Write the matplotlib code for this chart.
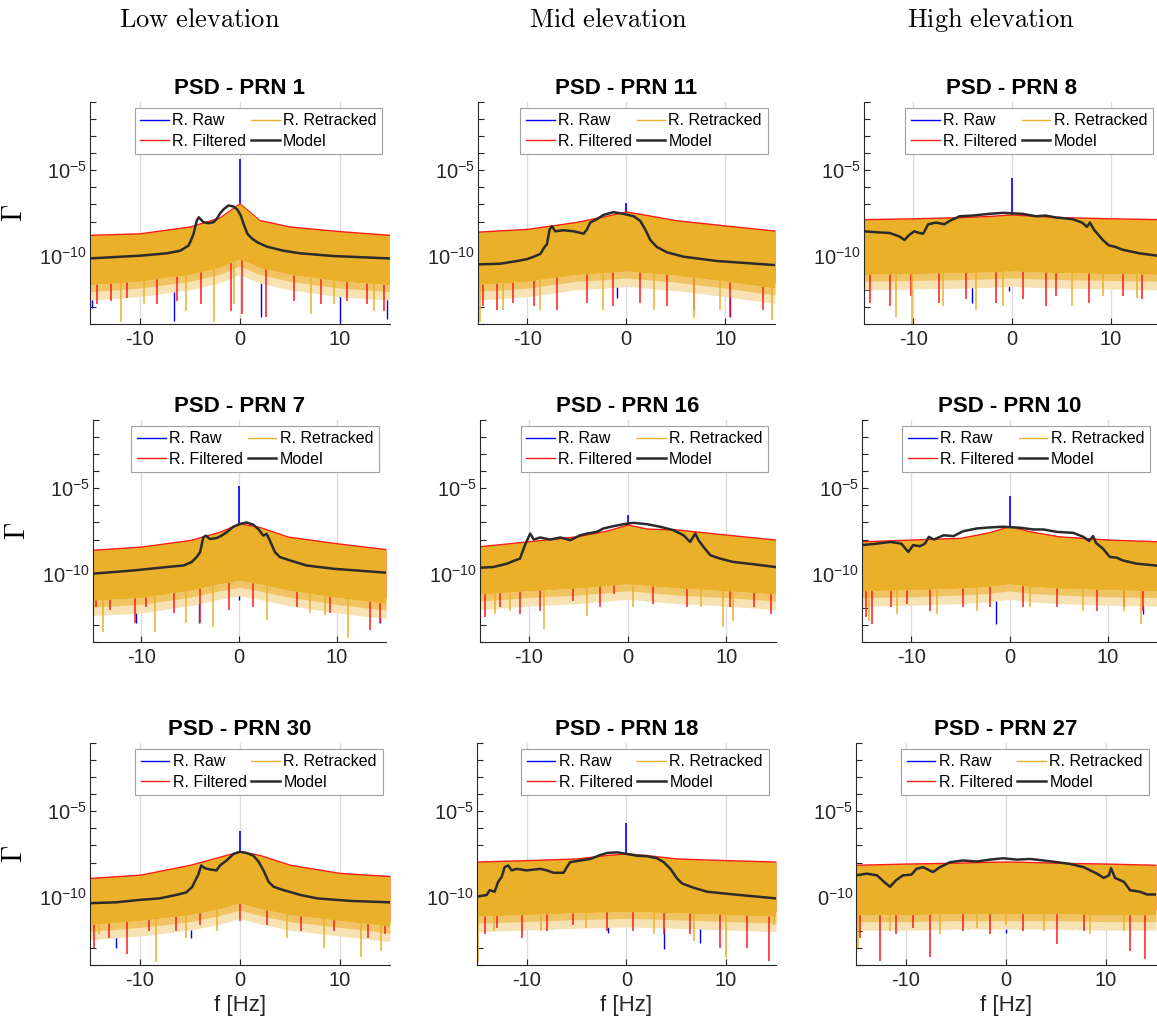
import numpy as np
import matplotlib
matplotlib.use('Agg')
import matplotlib.pyplot as plt
from matplotlib.lines import Line2D

plt.rcParams['font.family'] = ['Liberation Sans', 'DejaVu Sans']
plt.rcParams['mathtext.fontset'] = 'custom'
plt.rcParams['mathtext.rm'] = 'Liberation Sans'
plt.rcParams['mathtext.it'] = 'Liberation Sans:italic'
plt.rcParams['mathtext.bf'] = 'Liberation Sans:bold'
plt.rcParams['mathtext.sf'] = 'Liberation Sans'

# all PSD values below are log10(Gamma)
env_f = [-15, -10, -5, -2, 0, 2, 5, 10, 15]

# ---- PRN 1
prn1_model_f = [-15, -9.93, -7.27, -5.93, -5.1, -4.87, -4.6, -4.27, -4.07, -3.6, -3.1, -2.6, -2.27, -1.93,
                -1.53, -1.1, -0.6, -0.2, 0.13, 0.47, 0.8, 1.3, 1.8, 2.73, 4.4, 6.07, 9.4, 15]
prn1_model_g = [-10.16, -10.0, -9.86, -9.71, -9.41, -9.12, -8.73, -7.94, -7.75, -8.04, -8.1, -8.04, -7.84, -7.51,
                -7.25, -7.06, -7.12, -7.31, -7.65, -8.24, -8.73, -9.02, -9.22, -9.47, -9.71, -9.86, -10.02, -10.16]
prn1_upper = [-8.82, -8.73, -8.33, -7.8, -6.96, -7.95, -8.33, -8.6, -8.82]
prn1_lower = [-11.7, -11.5, -11.1, -10.7, -10.2, -10.7, -11.1, -11.5, -11.7]
prn1_peak = -4.31
prn1_red_f = [-14.3, -12.9, -11.3, -8.3, -6.3, -3.9, -0.9, 0.2, 2.6, 5.4, 8.1, 10.7, 12.7, 14.4]
prn1_red_g = [-12.84, -12.65, -12.45, -12.84, -12.65, -12.84, -13.24, -13.43, -13.6, -12.65, -12.84, -12.65, -12.84, -13.24]
prn1_org_f = [-11.9, -9.6, -5.4, -2.6, -0.6, 7.1, 9.4, 13.4]
prn1_org_g = [-13.9, -12.84, -13.24, -13.9, -12.84, -13.43, -12.84, -13.24]
prn1_blue_f = [-14.8, -6.6, 2.1, 10.0, 14.7]
prn1_blue_g = [-13.04, -13.82, -13.6, -13.9, -13.7]

# ---- PRN 11
prn11_model_f = [-15, -12.7, -11, -10, -9.34, -8.67, -8.24, -8.0, -7.73, -7.5, -7.16, -6.32, -5.3, -4.3, -3.97,
                 -3.63, -2.96, -2.29, -1.28, -0.27, 0.74, 1.41, 1.92, 2.42, 3.09, 4.1, 5.78, 9.14, 15]
prn11_model_g = [-10.51, -10.47, -10.31, -10.2, -10.06, -9.9, -9.49, -9.33, -8.47, -8.27, -8.57, -8.51, -8.57, -8.71,
                 -8.47, -8.06, -7.86, -7.61, -7.45, -7.55, -7.69, -7.96, -8.47, -9.08, -9.49, -9.8, -10.06, -10.31, -10.55]
prn11_upper = [-8.63, -8.47, -8.06, -7.7, -7.45, -7.65, -7.96, -8.27, -8.57]
prn11_lower = [-11.7, -11.5, -11.1, -11.0, -10.9, -11.0, -11.15, -11.5, -11.9]
prn11_peak = -6.94
prn11_red_f = [-14.4, -13.0, -11.4, -9.3, -7.0, -4.0, -1.3, 1.4, 4.1, 6.8, 10.5, 13.8]
prn11_red_g = [-12.96, -13.16, -12.76, -12.96, -13.16, -12.76, -12.96, -12.76, -12.96, -13.16, -13.57, -13.16]
prn11_org_f = [-14.7, -12.4, -8.7, -2.3, 2.8, 6.8, 9.5, 14.7]
prn11_org_g = [-13.88, -13.16, -13.16, -13.16, -13.16, -13.67, -13.16, -13.78]
prn11_blue_f = [0.0, -0.9, 10.5]
prn11_blue_g = [-11.53, -12.45, -13.57]

# ---- PRN 8
prn8_model_f = [-15, -13.7, -12.4, -11.4, -10.9, -10.4, -9.9, -9.4, -9.0, -8.5, -7.7, -6.85, -6.3, -5.3, -4.0, -2.3,
                -0.95, 1.1, 2.4, 3.4, 4.45, 6.1, 7.1, 7.6, 7.9, 8.3, 9.2, 9.8, 10.5, 11.2, 12.9, 15]
prn8_model_g = [-8.57, -8.63, -8.67, -8.88, -9.08, -8.78, -8.57, -8.67, -8.71, -8.16, -8.06, -8.16, -7.96, -7.69, -7.65,
                -7.55, -7.49, -7.55, -7.69, -7.65, -7.76, -7.86, -8.06, -8.31, -8.06, -8.47, -9.08, -9.39, -9.49, -9.65,
                -9.86, -10.02]
prn8_upper = [-7.9, -7.85, -7.78, -7.7, -7.62, -7.7, -7.78, -7.85, -7.9]
prn8_lower = [-11.1, -11.05, -11.0, -10.95, -10.9, -10.95, -11.0, -11.05, -11.1]
prn8_peak = -5.45
prn8_red_f = [-14.4, -12.4, -10.2, -7.4, -4.7, -1.6, 1.1, 3.4, 4.5, 7.8, 11.2, 13.2]
prn8_red_g = [-12.76, -12.96, -12.35, -12.76, -12.55, -12.76, -12.55, -12.96, -12.35, -12.76, -12.35, -12.55]
prn8_org_f = [-11.8, -10.1, -7.0, -3.6, -0.9, 6.1, 9.2, 12.7]
prn8_org_g = [-13.57, -14.0, -12.96, -13.16, -12.96, -12.96, -12.35, -12.45]
prn8_blue_f = [-0.3, -4.1, -10.2]
prn8_blue_g = [-12.04, -12.76, -12.25]

# ---- PRN 7
prn7_model_f = [-15, -10.8, -7.4, -5.7, -4.87, -4.36, -4.0, -3.68, -3.4, -3.0, -2.3, -1.8, -1.3, -0.6, 0.07, 0.75,
                1.43, 1.94, 2.45, 2.8, 3.13, 3.65, 4.16, 5.18, 6.88, 9.6, 15]
prn7_model_g = [-10.0, -9.81, -9.61, -9.52, -9.32, -9.03, -8.74, -7.87, -7.77, -7.97, -7.91, -7.77, -7.58, -7.25, -7.09,
                -7.0, -7.13, -7.38, -7.77, -7.67, -8.06, -8.74, -9.03, -9.22, -9.52, -9.71, -9.94]
prn7_upper = [-8.64, -8.45, -8.06, -7.58, -7.09, -7.29, -7.87, -8.26, -8.6]
prn7_lower = [-11.55, -11.4, -10.97, -10.6, -10.39, -10.6, -10.97, -11.4, -11.74]
prn7_peak = -4.86
prn7_red_f = [-14.6, -13.2, -10.7, -9.5, -6.7, -4.0, -1.0, 1.4, 5.9, 9.3, 13.4, 14.4]
prn7_red_g = [-11.94, -12.13, -12.91, -11.94, -12.33, -12.91, -12.13, -11.94, -11.94, -12.33, -13.29, -12.91]
prn7_org_f = [-13.9, -8.6, -5.4, -2.7, 2.8, 7.2, 8.8, 11.1]
prn7_org_g = [-13.39, -13.39, -12.91, -13.1, -12.71, -12.33, -12.42, -13.78]
prn7_blue_f = [-10.6, -4.1, 14.4, 0.0]
prn7_blue_g = [-12.91, -12.91, -12.91, -11.55]

# ---- PRN 16
prn16_model_f = [-15, -13.6, -12.2, -11.4, -10.9, -10.4, -9.86, -9.5, -8.85, -7.84, -6.8, -5.8, -4.8, -4.1, -3.1,
                 -2.43, -1.42, -0.4, 0.6, 1.96, 3.3, 4.66, 5.68, 6.35, 6.86, 7.2, 7.7, 8.4, 9.4, 10.7, 12.8, 15]
prn16_model_g = [-9.65, -9.61, -9.41, -9.22, -9.12, -8.33, -7.65, -8.0, -7.88, -8.0, -7.88, -8.04, -7.75, -7.65, -7.55,
                 -7.35, -7.22, -7.1, -7.02, -7.1, -7.25, -7.45, -7.75, -8.14, -7.65, -8.04, -8.43, -8.92, -9.12, -9.31,
                 -9.45, -9.61]
prn16_upper = [-8.43, -8.14, -7.84, -7.5, -7.16, -7.4, -7.45, -7.75, -8.04]
prn16_lower = [-11.2, -11.0, -10.85, -10.7, -10.6, -10.7, -10.85, -11.0, -11.2]
prn16_peak = -6.57
prn16_red_f = [-14.4, -12.9, -10.9, -8.85, -5.5, -2.8, -1.4, 2.6, 6.0, 10.4, 12.8, 14.5]
prn16_red_g = [-12.55, -11.96, -12.35, -12.16, -11.57, -11.96, -11.18, -11.76, -11.96, -11.96, -11.96, -12.35]
prn16_org_f = [-13.4, -11.9, -8.5, -4.1, 0.6, 7.4, 9.7, 10.7]
prn16_org_g = [-12.35, -12.16, -13.24, -12.45, -11.96, -11.96, -13.14, -12.75]
prn16_blue_f = [0.0, 0.3]
prn16_blue_g = [-11.27, -11.27]

# ---- PRN 10
prn10_model_f = [-15, -13.5, -12.1, -11.0, -10.3, -9.8, -9.1, -8.6, -8.2, -7.7, -6.7, -5.7, -4.7, -3.3, -2.0, -0.6,
                 1.1, 2.44, 3.45, 4.8, 6.5, 7.5, 8.1, 8.5, 8.8, 9.5, 10.2, 10.9, 11.5, 12.9, 15]
prn10_model_g = [-8.33, -8.24, -8.14, -8.24, -8.73, -8.33, -8.39, -8.24, -7.84, -8.0, -7.75, -7.8, -7.51, -7.35, -7.29,
                 -7.25, -7.31, -7.41, -7.41, -7.55, -7.61, -7.84, -8.08, -7.8, -8.2, -8.53, -9.02, -9.06, -9.22, -9.41,
                 -9.53]
prn10_upper = [-8.14, -8.04, -7.94, -7.6, -7.25, -7.55, -7.85, -8.04, -8.14]
prn10_lower = [-11.0, -10.95, -10.85, -10.75, -10.6, -10.75, -10.85, -10.95, -11.0]
prn10_peak = -5.45
prn10_red_f = [-14.6, -13.95, -12.1, -10.4, -8.05, -4.7, -2.0, 1.4, 4.8, 8.9, 11.6, 13.6]
prn10_red_g = [-12.55, -12.94, -11.96, -11.76, -12.16, -11.96, -11.96, -11.96, -11.96, -12.16, -11.96, -12.16]
prn10_org_f = [-14.3, -11.4, -7.4, -3.3, 2.1, 7.5, 11.6, 13.4]
prn10_org_g = [-12.75, -12.35, -12.35, -12.16, -11.96, -12.16, -12.16, -12.94]
prn10_blue_f = [-1.4, 0.0, 13.6]
prn10_blue_g = [-12.94, -11.18, -12.35]

# ---- PRN 30
prn30_model_f = [-15, -12.4, -10.1, -8.07, -6.4, -5.38, -4.77, -4.54, -4.2, -3.87, -3.53, -3.03, -2.35, -2.0, -1.34,
                 -0.67, 0.0, 0.67, 1.34, 1.85, 2.35, 2.86, 3.36, 4.37, 6.05, 7.73, 11.1, 15]
prn30_model_g = [-10.38, -10.33, -10.19, -10.1, -9.9, -9.75, -9.42, -9.13, -8.75, -8.17, -8.33, -8.4, -8.46, -8.17,
                 -7.88, -7.5, -7.37, -7.44, -7.6, -7.94, -8.46, -9.13, -9.42, -9.62, -9.9, -10.1, -10.25, -10.33]
prn30_upper = [-8.94, -8.75, -8.17, -7.69, -7.37, -7.6, -8.17, -8.65, -8.83]
prn30_lower = [-11.63, -11.4, -11.06, -10.7, -10.38, -10.7, -11.06, -11.4, -11.73]
prn30_peak = -6.15
prn30_red_f = [-14.6, -13.1, -11.3, -9.1, -6.4, -4.0, 0.0, 2.7, 6.05, 9.4, 12.8, 14.5]
prn30_red_g = [-12.98, -12.4, -13.37, -12.02, -12.02, -11.63, -11.44, -11.63, -12.02, -12.02, -12.4, -12.21]
prn30_org_f = [-14.1, -8.4, -5.4, -2.35, 4.7, 8.4, 12.1, 14.1]
prn30_org_g = [-12.21, -13.85, -12.4, -12.02, -12.4, -12.98, -13.56, -13.17]
prn30_blue_f = [-12.4, -4.9, 14.8]
prn30_blue_g = [-12.98, -12.4, -12.02]

# ---- PRN 18
prn18_model_f = [-15, -14.0, -13.7, -13.2, -12.85, -12.5, -12.2, -11.85, -11.5, -11.0, -10.0, -8.64, -7.97, -7.3,
                 -6.3, -5.96, -5.63, -4.62, -3.62, -2.61, -1.94, -0.94, 0.07, 1.07, 2.08, 3.08, 3.75, 4.42, 5.09, 5.6,
                 6.77, 8.1, 10.8, 15]
prn18_model_g = [-10.0, -9.9, -9.62, -9.71, -9.13, -8.85, -8.27, -8.17, -8.46, -8.37, -8.46, -8.37, -8.46, -8.6, -8.6,
                 -8.27, -7.98, -7.88, -7.79, -7.56, -7.44, -7.4, -7.5, -7.6, -7.63, -7.75, -7.98, -8.37, -8.94, -9.23,
                 -9.48, -9.71, -9.87, -10.1]
prn18_upper = [-7.98, -7.9, -7.8, -7.6, -7.5, -7.6, -7.8, -7.9, -7.98]
prn18_lower = [-11.15, -11.05, -10.95, -10.9, -10.87, -10.9, -10.95, -11.05, -11.15]
prn18_peak = -5.71
prn18_red_f = [-14.2, -13.0, -10.5, -8.0, -5.3, -1.9, 0.7, 3.75, 6.4, 9.4, 12.1, 14.3]
prn18_red_g = [-12.21, -11.83, -12.4, -12.02, -11.63, -12.02, -12.02, -12.21, -12.21, -12.98, -12.98, -13.75]
prn18_org_f = [-14.9, -13.3, -8.6, -4.0, 2.75, 6.8, 9.95, 14.8]
prn18_org_g = [-13.85, -12.02, -12.02, -11.83, -12.21, -12.6, -13.56, -11.63]
prn18_blue_f = [-1.8, 3.75, 7.4]
prn18_blue_g = [-12.13, -13.08, -12.69]

# ---- PRN 27
prn27_model_f = [-15, -13.9, -12.9, -12.2, -11.6, -11.0, -10.3, -9.46, -8.96, -8.3, -7.3, -6.6, -5.6, -4.3, -2.94,
                 -1.6, -0.27, 1.07, 2.4, 3.75, 5.1, 6.4, 7.76, 9.1, 9.77, 10.3, 10.5, 10.9, 11.8, 12.4, 13.4, 14.1, 15]
prn27_model_g = [-8.75, -8.65, -8.75, -9.13, -9.42, -9.04, -8.75, -8.71, -8.37, -8.27, -8.56, -8.27, -7.98, -7.88,
                 -7.94, -7.83, -7.75, -7.83, -7.79, -7.88, -7.98, -8.08, -8.27, -8.65, -8.9, -8.75, -8.33, -8.9, -9.13,
                 -9.62, -9.71, -9.87, -9.87]
prn27_upper = [-8.17, -8.1, -8.05, -8.0, -7.98, -8.0, -8.05, -8.1, -8.17]
prn27_lower = [-11.06, -11.06, -11.0, -11.0, -11.0, -11.0, -11.0, -11.06, -11.06]
prn27_peak = None
prn27_red_f = [-14.6, -12.6, -11.0, -9.3, -7.6, -4.3, -1.6, 1.7, 5.1, 7.8, 12.4, 13.9]
prn27_red_g = [-12.4, -13.75, -12.21, -11.83, -13.56, -12.02, -12.21, -12.02, -12.79, -12.02, -13.17, -13.65]
prn27_org_f = [-14.8, -11.6, -6.6, -2.9, 0.0, 3.75, 8.4, 11.8]
prn27_org_g = [-12.98, -12.02, -12.21, -11.83, -11.63, -12.02, -12.21, -12.02]
prn27_blue_f = [0.0]
prn27_blue_g = [-12.1]

titles = ['PSD - PRN 1', 'PSD - PRN 11', 'PSD - PRN 8',
          'PSD - PRN 7', 'PSD - PRN 16', 'PSD - PRN 10',
          'PSD - PRN 30', 'PSD - PRN 18', 'PSD - PRN 27']
col_titles = ['Low elevation', 'Mid elevation', 'High elevation']
legend_labels = ['R. Raw', 'R. Filtered', 'R. Retracked', 'Model']
ytick_10_labels = [r'$10^{-10}$'] * 8 + [r'$0^{-10}$']

panels = [
    (prn1_model_f, prn1_model_g, prn1_upper, prn1_lower, prn1_peak, prn1_red_f, prn1_red_g, prn1_org_f, prn1_org_g, prn1_blue_f, prn1_blue_g),
    (prn11_model_f, prn11_model_g, prn11_upper, prn11_lower, prn11_peak, prn11_red_f, prn11_red_g, prn11_org_f, prn11_org_g, prn11_blue_f, prn11_blue_g),
    (prn8_model_f, prn8_model_g, prn8_upper, prn8_lower, prn8_peak, prn8_red_f, prn8_red_g, prn8_org_f, prn8_org_g, prn8_blue_f, prn8_blue_g),
    (prn7_model_f, prn7_model_g, prn7_upper, prn7_lower, prn7_peak, prn7_red_f, prn7_red_g, prn7_org_f, prn7_org_g, prn7_blue_f, prn7_blue_g),
    (prn16_model_f, prn16_model_g, prn16_upper, prn16_lower, prn16_peak, prn16_red_f, prn16_red_g, prn16_org_f, prn16_org_g, prn16_blue_f, prn16_blue_g),
    (prn10_model_f, prn10_model_g, prn10_upper, prn10_lower, prn10_peak, prn10_red_f, prn10_red_g, prn10_org_f, prn10_org_g, prn10_blue_f, prn10_blue_g),
    (prn30_model_f, prn30_model_g, prn30_upper, prn30_lower, prn30_peak, prn30_red_f, prn30_red_g, prn30_org_f, prn30_org_g, prn30_blue_f, prn30_blue_g),
    (prn18_model_f, prn18_model_g, prn18_upper, prn18_lower, prn18_peak, prn18_red_f, prn18_red_g, prn18_org_f, prn18_org_g, prn18_blue_f, prn18_blue_g),
    (prn27_model_f, prn27_model_g, prn27_upper, prn27_lower, prn27_peak, prn27_red_f, prn27_red_g, prn27_org_f, prn27_org_g, prn27_blue_f, prn27_blue_g),
]

# layout in pixels: (left, top, width)
W, H = 1157, 1032
ax_h = 222
rects = [(89.5, 102, 300), (477.5, 102, 297.5), (864, 102, 296),
         (92.5, 420, 293.5), (479.5, 420, 296), (862, 420, 295),
         (90, 743, 300), (476.7, 743, 299.3), (856, 743, 300)]

c_raw = '#0000ff'
c_fil = '#ff1a1a'
c_ret = '#ebb02a'
c_fringe1 = '#f0c462'
c_fringe2 = '#f7e2b4'
c_mod = '#2b2b2b'

fig = plt.figure(figsize=(W / 100, H / 100), dpi=100)

for i, (mf, mg, up, lo, peak, rf, rg, of, og, bf, bg) in enumerate(panels):
    l, t, w = rects[i]
    ax = fig.add_axes([l / W, 1 - (t + ax_h) / H, w / W, ax_h / H])
    up = np.array(up)
    lo = np.array(lo)

    # raw
    ax.vlines(bf, bg, np.interp(bf, env_f, lo), color=c_raw, lw=1.0, zorder=2)
    if peak is not None:
        ax.vlines([0], [up[4] - 1.0], [peak], color=c_raw, lw=1.2, zorder=2)
    # loose spikes just under the dense band (mixed red / orange)
    ax.fill_between(env_f, lo - 0.9, lo, color=c_fringe2, lw=0, zorder=2.3)
    ax.fill_between(env_f, lo - 0.4, lo, color=c_fringe1, lw=0, zorder=2.5)
    # filtered
    ax.fill_between(env_f, lo + 0.3, up + 0.08, color=c_fil, lw=0, zorder=3)
    ax.vlines(rf, rg, np.interp(rf, env_f, lo) + 0.2, color=c_fil, lw=1.1, zorder=4)
    # retracked
    ax.fill_between(env_f, lo, up, color=c_ret, lw=0, zorder=5)
    ax.vlines(of, og, np.interp(of, env_f, lo) + 0.2, color=c_ret, lw=1.1, zorder=6)
    # model
    ax.plot(mf, mg, color=c_mod, lw=1.8, zorder=7)

    ax.set_xlim(-15, 15)
    ax.set_ylim(-14, -1)
    ax.set_xticks([-10, 0, 10])
    ax.set_xticklabels(['-10', '0', '10'])
    ax.set_yticks(range(-14, 0))
    ax.set_yticklabels(['' if k not in (-5, -10) else (r'$10^{-5}$' if k == -5 else ytick_10_labels[i])
                        for k in range(-14, 0)])
    ax.tick_params(direction='in', length=4, width=0.8, labelsize=14.5, colors='#262626', pad=4)
    ax.tick_params(axis='y', pad=2)
    ax.xaxis.grid(True, color='#dcdcdc', lw=1)
    ax.set_axisbelow(True)
    for s in ['top', 'right']:
        ax.spines[s].set_visible(False)
    for s in ['left', 'bottom']:
        ax.spines[s].set_color('#262626')
        ax.spines[s].set_linewidth(0.8)
        ax.spines[s].set_zorder(8)

    ax.set_title(titles[i], fontsize=16, fontweight='bold', pad=6)

    handles = [Line2D([], [], color=c_raw, lw=1.0), Line2D([], [], color=c_fil, lw=1.0),
               Line2D([], [], color=c_ret, lw=1.0), Line2D([], [], color=c_mod, lw=1.8)]
    leg = ax.legend(handles, legend_labels, ncol=2, loc='upper right', bbox_to_anchor=(0.975, 0.975),
                    borderaxespad=0, fontsize=11.5, handlelength=1.8, handletextpad=0.2,
                    columnspacing=0.3, labelspacing=0.35, borderpad=0.35, fancybox=False,
                    framealpha=1, edgecolor='#a0a0a0')
    leg.get_frame().set_linewidth(0.8)
    leg.set_zorder(10)

    if i % 3 == 0:
        ax.set_ylabel(r'$\Gamma$', math_fontfamily='cm', fontsize=20, labelpad=8)
    if i >= 6:
        ax.set_xlabel('f [Hz]', fontsize=16, color='#262626', labelpad=4)

for x, txt in zip([200, 608, 991], col_titles):
    fig.text(x / W, 1 - 20 / H, r'$\mathrm{' + txt.replace(' ', r'\ ') + '}$', math_fontfamily='cm',
             fontsize=19, ha='center', va='center')

fig.savefig('out.png', dpi=100)
